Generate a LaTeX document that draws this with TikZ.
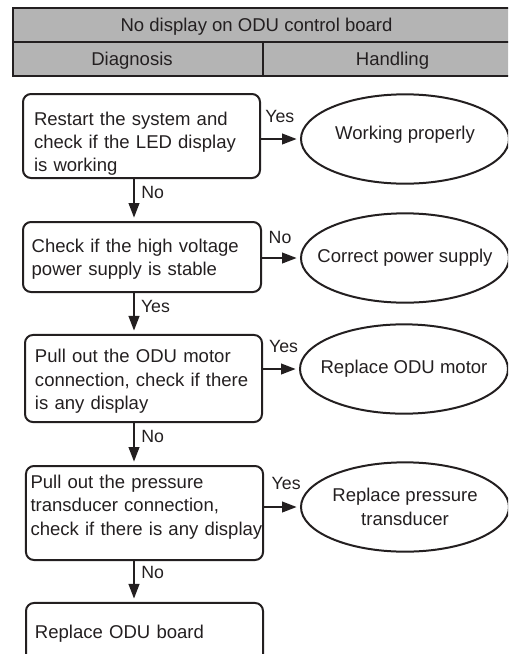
\documentclass[tikz,border=0pt]{standalone}
\usepackage{fontspec}
\setmainfont{Liberation Sans}
\usetikzlibrary{shapes.geometric, arrows.meta, positioning}

\definecolor{ink}{RGB}{35,31,32}
\definecolor{headgray}{RGB}{180,180,180}

\tikzset{
    checkbox/.style={rectangle, draw=ink, line width=1.5pt, rounded corners=6pt,
        align=left, inner ysep=0pt},
    result/.style={ellipse, draw=ink, line width=1.5pt, inner sep=0pt,
        minimum width=156pt, minimum height=67pt},
    flow/.style={draw=ink, line width=1.5pt, shorten >=2.5pt},
    lab/.style={inner sep=0pt, font=\fontsize{13.3pt}{16pt}\selectfont},
}

\begin{document}
\begin{tikzpicture}[>={Triangle[length=11pt, width=8pt]}, x=0.75pt, y=-0.75pt,
    font=\fontsize{13.9pt}{17.6pt}\selectfont, text=ink]
    \useasboundingbox (0,0) rectangle (508,654);
    \clip (0,0) rectangle (508,654);

    % --- header ---
    \fill[headgray] (13,8) rectangle (530,76);
    \draw[ink, line width=0.9pt] (13,42) -- (530,42);
    \draw[ink, line width=0.9pt] (263,42) -- (263,76);
    \draw[ink, line width=1.9pt] (530,8) -- (13,8) -- (13,76) -- (530,76);
    \node[anchor=base] (title) at (256.5,31.5) {No display on ODU control board};
    \node[anchor=base] (diag) at (132,65) {Diagnosis};
    \node[anchor=base] (hand) at (392.5,65) {Handling};

    % --- diagnosis ---
    \node[checkbox, inner xsep=8.25pt, text width=161.25pt, text height=23.25pt, text depth=39.75pt]
        (restart) at (141.5,136) {Restart the system and\\check if the LED display\\is working};
    \node[checkbox, inner xsep=6.5pt, text width=165.5pt, text height=22.7pt, text depth=29.8pt]
        (supply) at (142,257) {Check if the high voltage\\power supply is stable};
    \node[checkbox, inner xsep=7.5pt, text width=162.75pt, text height=20.8pt, text depth=44.5pt]
        (motorcheck) at (143.5,378.5) {Pull out the ODU motor\\connection, check if there\\is any display};
    \node[checkbox, inner xsep=3.4pt, text width=171pt, text height=16.7pt, text depth=53.8pt]
        (sensorcheck) at (144.5,513) {Pull out the pressure\\transducer connection,\\\mbox{check if there is any display}};
    \node[checkbox, inner xsep=6.75pt, text width=164.25pt, text height=26.5pt, text depth=31.3pt]
        (board) at (144.5,641.5) {Replace ODU board};

    % --- handling ---
    \node[result, label={[yshift=3pt]center:Working properly}] (working) at (405,139) {};
    \node[result, label={center:Correct power supply}] (power) at (405,258) {};
    \node[result, label={center:Replace ODU motor}] (motor) at (404,369) {};
    \node[result, label={[align=center]center:Replace pressure\\transducer}] (sensor) at (405,507) {};

    % --- downward flow ---
    \coordinate (spine) at (134,0);
    \draw[flow, ->] (restart.south -| spine) -- (supply.north -| spine)
        node[lab, pos=0.32, anchor=west, xshift=4.8pt] (no1) {No};
    \draw[flow, ->] (supply.south -| spine) -- (motorcheck.north -| spine)
        node[lab, pos=0.33, anchor=west, xshift=4.5pt] (yes2) {Yes};
    \draw[flow, ->] (motorcheck.south -| spine) -- (sensorcheck.north -| spine)
        node[lab, pos=0.33, anchor=west, xshift=4.8pt] (no3) {No};
    \draw[flow, ->] (sensorcheck.south -| spine) -- (board.north -| spine)
        node[lab, pos=0.29, anchor=west, xshift=4.8pt] (no4) {No};

    % --- to handling ---
    \draw[flow, ->] (restart.east |- working.west) -- (working.west)
        node[lab, pos=0, anchor=west, xshift=2.5pt, yshift=16.9pt] (yes1) {Yes};
    \draw[flow, ->] (supply.east |- power.west) -- (power.west)
        node[lab, pos=0, anchor=west, xshift=4.3pt, yshift=15.5pt] (no2) {No};
    \draw[flow, ->] (motorcheck.east |- motor.west) -- (motor.west)
        node[lab, pos=0, anchor=west, xshift=3.8pt, yshift=17.2pt] (yes3) {Yes};
    \draw[flow, ->] (sensorcheck.east |- sensor.west) -- (sensor.west)
        node[lab, pos=0, anchor=west, xshift=5pt, yshift=18pt] (yes4) {Yes};
\end{tikzpicture}
\end{document}
